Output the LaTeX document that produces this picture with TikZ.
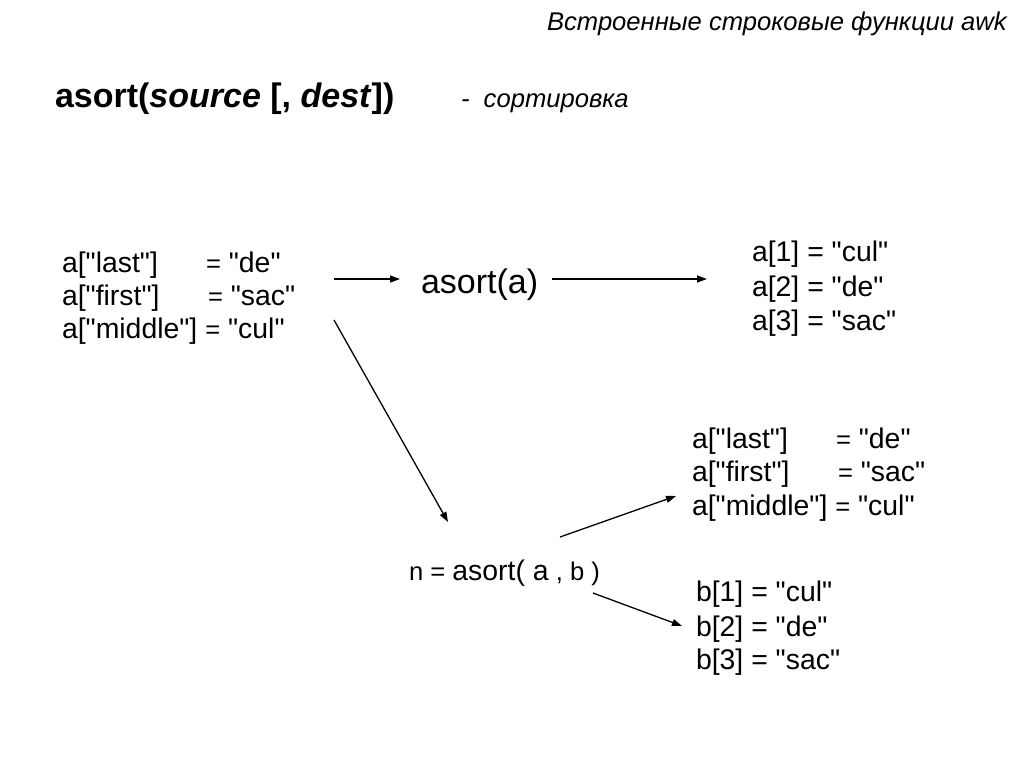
\documentclass[tikz,border=0pt]{standalone}
\usepackage{fontspec}
\setmainfont{Liberation Sans}[Ligatures=TeXOff]
\usetikzlibrary{arrows.meta}
\newcommand\fsz[1]{\fontsize{#1}{#1}\selectfont}
\newcommand\q{\symbol{34}}
\newcommand\smeq{{\fsz{25.6}=}}
\newcommand\kv[3]{\makebox[#1pt][l]{#2}\smeq{} #3}
\begin{document}
\begin{tikzpicture}[x=1pt,y=-1pt,
  txt/.style={anchor=base west,inner sep=0pt,outer sep=0pt},
  big/.style={txt,font=\fsz{28.4}},
  arr/.style={line width=1.3pt,-{Triangle[length=10pt,width=7pt]}}]
\useasboundingbox (0,0) rectangle (1024,768);
\fill[white] (0,0) rectangle (1024,768);
% titles
\node[anchor=base east,inner sep=0pt,font=\fsz{25.6}\itshape] (title) at (1007,31) {Встроенные строковые функции awk};
\node[txt,font=\fsz{34}\bfseries] (head) at (55,107) {asort(\textit{source} [, \textit{dest}])};
\node[txt,font=\fsz{25.6}\itshape] (sub) at (461,107) {-\ \ сортировка};
% left block
\node[big] (l1) at (62,272) {\kv{144}{a[\q last\q]}{\q de\q}};
\node[big] (l2) at (62,305) {\kv{146}{a[\q first\q]}{\q sac\q}};
\node[big] (l3) at (62,338) {a[\q middle\q] \smeq{} \q cul\q};
% asort(a)
\node[txt,font=\fsz{34}] (as) at (421,293) {asort(a)};
% right top block
\node[big] (r1) at (752,261) {a[1] = \q cul\q};
\node[big] (r2) at (752,296) {a[2] = \q de\q};
\node[big] (r3) at (752,330) {a[3] = \q sac\q};
% right middle block
\node[big] (m1) at (692,448) {\kv{144}{a[\q last\q]}{\q de\q}};
\node[big] (m2) at (692,481) {\kv{146}{a[\q first\q]}{\q sac\q}};
\node[big] (m3) at (692,515) {a[\q middle\q] \smeq{} \q cul\q};
% n = asort( a , b )
\node[txt] (call) at (409,580) {{\fsz{25.6}n = }{\fsz{28.4}asort( a}{\fsz{25.6} , b )}};
% bottom right block
\node[big] (b1) at (696,601) {b[1] = \q cul\q};
\node[big] (b2) at (696,636) {b[2] = \q de\q};
\node[big] (b3) at (696,669) {b[3] = \q sac\q};
% arrow ends
\coordinate (a1s) at (334,279);
\coordinate (a1e) at (400,279);
\coordinate (a2s) at (552,279);
\coordinate (a2e) at (707,279);
\coordinate (a3s) at (334,320);
\coordinate (a3e) at (448,522);
\coordinate (a4s) at (560,537);
\coordinate (a4e) at (676,496);
\coordinate (a5s) at (593,593);
\coordinate (a5e) at (682,626);
\draw[arr] (a1s) -- (a1e);
\draw[arr] (a2s) -- (a2e);
\draw[arr] (a3s) -- (a3e);
\draw[arr] (a4s) -- (a4e);
\draw[arr] (a5s) -- (a5e);
\end{tikzpicture}
\end{document}
